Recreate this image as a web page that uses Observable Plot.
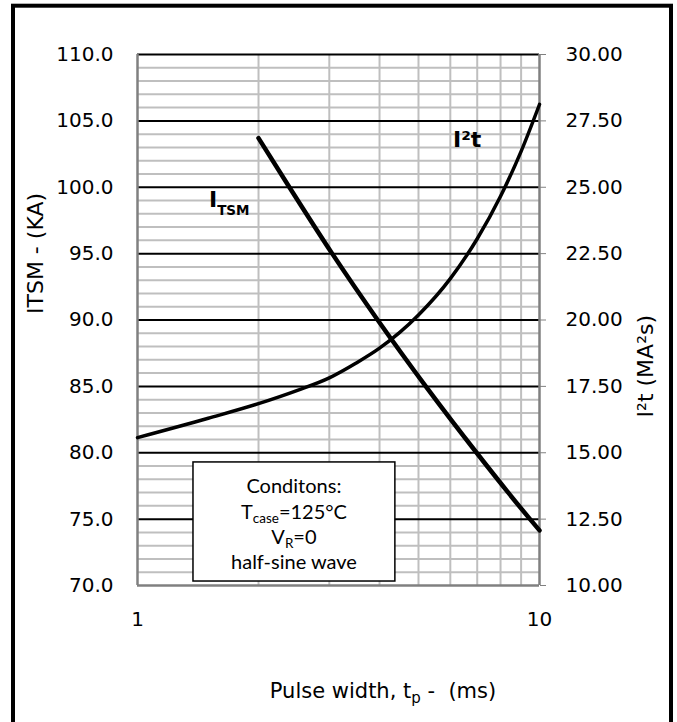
<!DOCTYPE html>
<html><head><meta charset="utf-8">
<script src="https://cdn.jsdelivr.net/npm/d3@7"></script>
<script src="https://cdn.jsdelivr.net/npm/@observablehq/plot@0.6"></script>
<style>body{margin:0;background:#fff}</style>
</head><body><div id="chart"></div>
<script>
// Pulse width (ms) and surge current ITSM (kA, left axis)
const itsmX = [2, 2.387, 3.05, 3.958, 5.214, 6.975, 9.47, 10];
const itsmY = [103.7, 100, 95, 90, 85, 80, 75, 74.15];
// Pulse width (ms) and I²t (MA²s, right axis)
const i2tX = [1, 1.5, 2, 2.5, 3, 3.5, 4, 5, 6, 7, 8, 9, 10];
const i2tY = [15.57, 16.30, 16.85, 17.35, 17.82, 18.38, 18.94, 20.19, 21.56, 23.06, 24.66, 26.35, 28.12];
// axis ticks
const xTicks = [1, 10];
const leftTicks = [70, 75, 80, 85, 90, 95, 100, 105, 110];
const rightTicks = [10, 12.5, 15, 17.5, 20, 22.5, 25, 27.5, 30];
const minorY = d3.range(70, 111, 1).filter(v => v % 5 !== 0);
const majorY = [75, 80, 85, 90, 95, 100, 105, 110];
const gridX = [2, 3, 4, 5, 6, 7, 8, 9];

// right axis (10..30) mapped onto left axis (70..110)
const toLeft = v => 2 * v + 50;
const fromLeft = v => (v - 50) / 2;

const itsm = itsmX.map((x, i) => ({x, y: itsmY[i]}));
const i2t = i2tX.map((x, i) => ({x, y: toLeft(i2tY[i])}));

const AXF = "'DejaVu Sans', sans-serif";
const BOXF = "Lato, 'Open Sans', sans-serif";

const chart = Plot.plot({
  width: 677, height: 722,
  marginLeft: 137, marginRight: 138, marginTop: 54, marginBottom: 137,
  x: {type: "log", domain: [1, 10]},
  y: {domain: [70, 110]},
  style: {fontFamily: AXF, fontSize: "20px", background: "#fff", color: "#000"},
  marks: [
    Plot.ruleY(minorY, {stroke: "#bfbfbf", strokeWidth: 2}),
    Plot.ruleX(gridX, {stroke: "#bfbfbf", strokeWidth: 2}),
    Plot.ruleY(majorY, {stroke: "#000", strokeWidth: 2}),
    Plot.ruleX([1], {stroke: "#808080", strokeWidth: 2.5}),
    Plot.ruleX([10], {stroke: "#808080", strokeWidth: 2.5}),
    Plot.ruleY([70], {stroke: "#808080", strokeWidth: 2.5}),
    Plot.axisX({ticks: xTicks, tickFormat: d => String(d), tickSize: 0, tickPadding: 26, label: null, fontSize: 20}),
    Plot.axisY({anchor: "left", ticks: leftTicks, tickFormat: d => d.toFixed(1), tickSize: 0, tickPadding: 24, label: null, fontSize: 20}),
    Plot.axisY({anchor: "right", ticks: rightTicks.map(toLeft), tickFormat: d => fromLeft(d).toFixed(2), tickSize: 6, tickPadding: 20, stroke: "#808080", fill: "#000", label: null, fontSize: 20}),
    Plot.line(i2t, {x: "x", y: "y", stroke: "#000", strokeWidth: 3.5, curve: "monotone-x"}),
    Plot.line(itsm, {x: "x", y: "y", stroke: "#000", strokeWidth: 4.5, curve: "monotone-x"}),
    Plot.rect([{x1: 1.378, x2: 4.38, y1: 70.3, y2: 79.27}], {x1: "x1", x2: "x2", y1: "y1", y2: "y2", fill: "#fff", stroke: "#000", strokeWidth: 1.5}),
    Plot.text(["ITSM - (KA)"], {frameAnchor: "left", dx: -101.5, dy: -6, rotate: -90, fontSize: 22, fill: "#000"}),
    Plot.text(["I²t (MA²s)"], {frameAnchor: "right", dx: 106, dy: -5, rotate: -90, fontSize: 22, fill: "#000"})
  ]
});
document.getElementById("chart").append(chart);

const sx = chart.scale("x"), sy = chart.scale("y");
const svg = d3.select(chart);

function rich(parts, x, y, opts = {}) {
  const t = svg.append("text")
    .attr("x", x).attr("y", y)
    .attr("text-anchor", opts.anchor || "middle")
    .attr("font-family", opts.family || AXF)
    .attr("font-size", opts.size || 20)
    .attr("font-weight", opts.weight || "normal")
    .attr("fill", "#000");
  let back = 0;
  parts.forEach(p => {
    if (typeof p === "string") {
      const s = t.append("tspan").text(p);
      if (back) { s.attr("dy", -back); back = 0; }
    } else {
      t.append("tspan").attr("font-size", p.size).attr("dy", p.dy).text(p.sub);
      back = p.dy;
    }
  });
  return t;
}

// curve labels
rich(["I", {sub: "TSM", size: 13.5, dy: 8}], sx.apply(1.51), sy.apply(98.47), {anchor: "start", size: 22, weight: "bold"});
rich(["I²t"], sx.apply(6.11), sy.apply(103.0), {anchor: "start", size: 22, weight: "bold"});

// conditions box
const cx = sx.apply(2.457);
rich(["Conditons:"], cx, 492.5, {size: 20, family: BOXF});
rich(["T", {sub: "case", size: 13.5, dy: 4.5}, "=125°C"], cx, 518.5, {size: 20, family: BOXF});
rich(["V", {sub: "R", size: 13.5, dy: 4.5}, "=0"], cx, 543.5, {size: 20, family: BOXF});
rich(["half-sine wave"], cx, 569, {size: 20, family: BOXF});

// x axis title
rich(["Pulse width, t", {sub: "p", size: 15, dy: 5}, " -  (ms)"], 383, 698, {size: 21});

// outer border
svg.append("rect").attr("x", 13).attr("y", 5.7).attr("width", 658).attr("height", 800)
  .attr("fill", "none").attr("stroke", "#000").attr("stroke-width", 4);
</script></body></html>
